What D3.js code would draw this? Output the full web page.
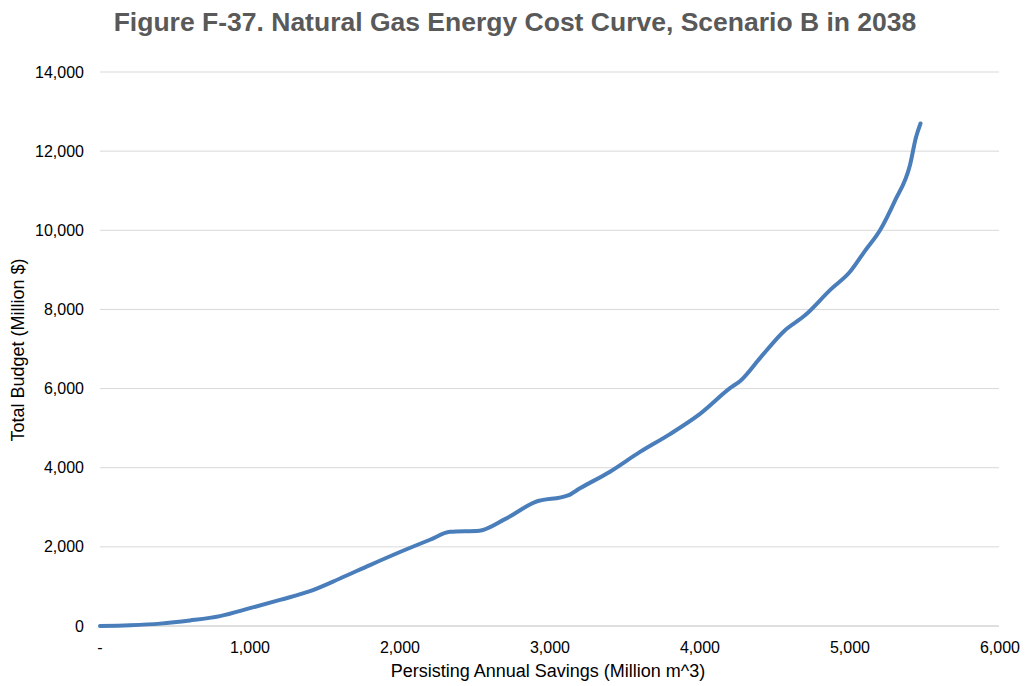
<!DOCTYPE html>
<html><head><meta charset="utf-8">
<script src="https://cdn.jsdelivr.net/npm/d3@7"></script>
<style>body{margin:0;background:#fff}svg{display:block}</style>
</head><body>
<svg id="c" width="1027" height="686"></svg>
<script>
const savings = [0,200,400,600,800,1000,1200,1400,1600,1800,2000,2200,2333,2530,2700,2900,3120,3200,3400,3600,3800,4000,4200,4270,4400,4560,4700,4870,5000,5100,5200,5300,5400,5440,5470];
const budget  = [0,20,60,140,250,450,660,880,1200,1540,1870,2180,2380,2410,2700,3130,3300,3480,3900,4400,4850,5360,6010,6200,6770,7450,7850,8500,8950,9480,10000,10750,11650,12350,12700];
const xTicks = [0,1000,2000,3000,4000,5000,6000];
const xTickLabels = ["-","1,000","2,000","3,000","4,000","5,000","6,000"];
const yTicks = [0,2000,4000,6000,8000,10000,12000,14000];
const yTickLabels = ["0","2,000","4,000","6,000","8,000","10,000","12,000","14,000"];
const title = "Figure F-37. Natural Gas Energy Cost Curve, Scenario B in 2038";
const xTitle = "Persisting Annual Savings (Million m^3)";
const yTitle = "Total Budget (Million $)";

const svg = d3.select("#c");
const x = d3.scaleLinear().domain([0,6000]).range([100,1000]);
const y = d3.scaleLinear().domain([0,14000]).range([626,72]);
const font = "'Liberation Sans', Arial, sans-serif";

svg.append("text").attr("x",515).attr("y",31).attr("text-anchor","middle")
  .attr("font-family",font).attr("font-weight","bold").attr("font-size",26.5)
  .attr("fill","#595959").text(title);

// gridlines
svg.append("g").selectAll("line").data(yTicks).join("line")
  .attr("x1",100).attr("x2",999).attr("y1",d=>y(d)).attr("y2",d=>y(d))
  .attr("stroke",(d)=>d===0?"#bfbfbf":"#d9d9d9").attr("stroke-width",1);

// y tick labels
svg.append("g").selectAll("text").data(yTicks).join("text")
  .attr("x",84).attr("y",d=>y(d)+5.5).attr("text-anchor","end")
  .attr("font-family",font).attr("font-size",16).attr("fill","#000")
  .text((d,i)=>yTickLabels[i]);

// x tick labels
svg.append("g").selectAll("text").data(xTicks).join("text")
  .attr("x",d=>x(d)).attr("y",653).attr("text-anchor","middle")
  .attr("font-family",font).attr("font-size",16).attr("fill","#000")
  .text((d,i)=>xTickLabels[i]);

svg.append("text").attr("x",548).attr("y",677).attr("text-anchor","middle")
  .attr("font-family",font).attr("font-size",18).attr("fill","#000").text(xTitle);
svg.append("text").attr("transform","translate(24,350) rotate(-90)").attr("text-anchor","middle")
  .attr("font-family",font).attr("font-size",18).attr("fill","#000").text(yTitle);

const line = d3.line().x((d,i)=>x(savings[i])).y((d,i)=>y(budget[i])).curve(d3.curveMonotoneX);
svg.append("path").attr("d",line(budget)).attr("fill","none")
  .attr("stroke","#4a7ebb").attr("stroke-width",4).attr("stroke-linecap","round").attr("stroke-linejoin","round");
</script>
</body></html>
